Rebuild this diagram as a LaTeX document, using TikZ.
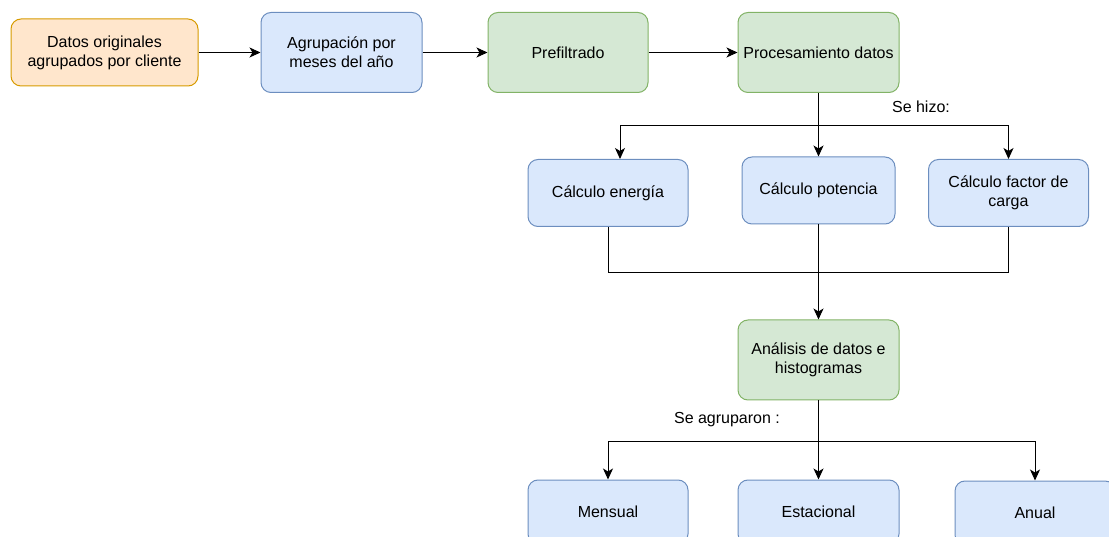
\documentclass[tikz,border=0pt]{standalone}
\usepackage{fontspec}
\setmainfont{Liberation Sans}
\usetikzlibrary{positioning, arrows.meta, calc}
\definecolor{orgF}{HTML}{FFE6CC}
\definecolor{orgD}{HTML}{D79B00}
\definecolor{bluF}{HTML}{DAE8FC}
\definecolor{bluD}{HTML}{6C8EBF}
\definecolor{grnF}{HTML}{D5E8D4}
\definecolor{grnD}{HTML}{82B366}
\tikzset{
  blk/.style = {draw, rectangle, rounded corners=10pt, align=center, inner sep=3pt,
                line width=1pt, font=\fontsize{16}{19}\selectfont,
                minimum width=160pt, minimum height=80pt},
  org/.style = {blk, fill=orgF, draw=orgD},
  blu/.style = {blk, fill=bluF, draw=bluD},
  grn/.style = {blk, fill=grnF, draw=grnD},
  ar/.style  = {-{Stealth[length=11pt, width=10pt, inset=3pt]}, line width=1pt},
  ln/.style  = {line width=1pt},
  lbl/.style = {font=\fontsize{16}{19}\selectfont, inner sep=1pt},
}
\begin{document}
\begin{tikzpicture}[x=1pt, y=-1pt]
  \useasboundingbox (0,0) rectangle (1109,537);
  % first row
  \node[org, minimum width=187pt, minimum height=67pt] (datos) at (104.5,52.5)
       {Datos originales\\agrupados por cliente};
  \node[blu, minimum width=161pt] (agrup) at (341.5,52.5) {Agrupación por\\meses del año};
  \node[grn] (prefil) at (568,52.5) {Prefiltrado};
  \node[grn, minimum width=161pt] (proces) at (818.5,52.5) {Procesamiento datos};
  \draw[ar] (datos) -- (agrup);
  \draw[ar] (agrup) -- (prefil);
  \draw[ar] (prefil) -- (proces);
  % calculations
  \node[blu, minimum height=67pt] (energia) at (608,193) {Cálculo energía};
  \node[blu, minimum width=153pt, minimum height=67pt] (potencia) at (818.5,190.5)
       {Cálculo potencia};
  \node[blu, minimum height=67pt] (factor) at (1008.5,193) {Cálculo factor de\\carga};
  \coordinate (split1) at (818.5,126);
  \coordinate (join1) at (818.5,273);
  \node[lbl] (hizo) at (921,107) {Se hizo:};
  \draw[ar] (proces.south) -- (potencia.north);
  \draw[ar] (split1) -| ([xshift=12pt]energia.north);
  \draw[ar] (split1) -| (factor.north);
  % analysis
  \node[grn, minimum width=161pt] (analisis) at (818.5,360) {Análisis de datos e\\histogramas};
  \draw[ln] (energia.south) |- (join1);
  \draw[ln] (factor.south) |- (join1);
  \draw[ar] (potencia.south) -- (analisis.north);
  % groups
  \node[blu, minimum height=64pt] (mensual) at (608,512) {Mensual};
  \node[blu, minimum width=161pt, minimum height=64pt] (estac) at (818.5,512) {Estacional};
  \node[blu, minimum height=64pt] (anual) at (1035,513) {Anual};
  \coordinate (split2) at (818.5,441);
  \node[lbl] (agrupa) at (727,420) {Se agruparon :};
  \draw[ar] (analisis.south) -- (estac.north);
  \draw[ar] (split2) -| (mensual.north);
  \draw[ar] (split2) -| (anual.north);
\end{tikzpicture}
\end{document}
